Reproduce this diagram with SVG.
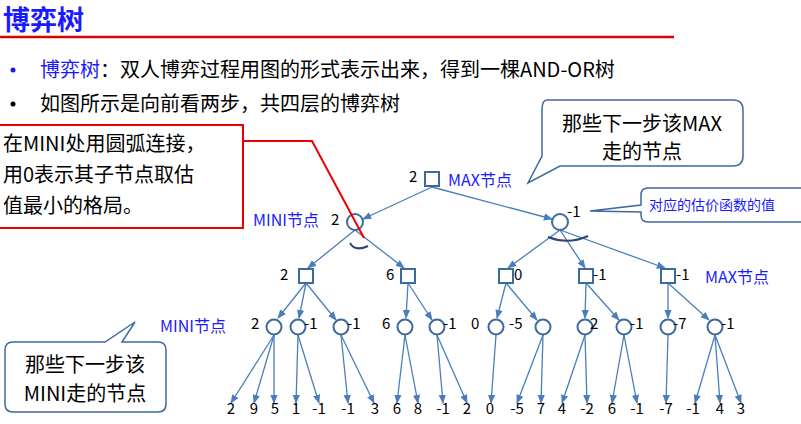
<svg xmlns="http://www.w3.org/2000/svg" width="801" height="424" viewBox="0 0 801 424">
<defs><marker id="a" viewBox="0 0 10 10" refX="9" refY="5" markerWidth="7" markerHeight="7" orient="auto"><path d="M0,1 L10,5 L0,9 z" fill="#4a7ebb"/></marker></defs>
<style>
text{font-family:"Noto Sans CJK SC","Liberation Sans",sans-serif}
.e{stroke:#4a7ebb;stroke-width:1.3;fill:none;marker-end:url(#a)}
.n{fill:#fff;stroke:#3d6a9c;stroke-width:2}
.v{font-size:15px;fill:#000}
.b{font-size:16px;fill:#1a1aff}
.c{fill:#fff;stroke:#3d6a9c;stroke-width:1.5}
.t{font-size:20px;fill:#000}
</style>
<rect width="801" height="424" fill="#fff"/>
<text x="3" y="30" font-size="27" font-weight="bold" fill="#1a1aff">博弈树</text>
<line x1="0" y1="37" x2="674" y2="37" stroke="#d00" stroke-width="2.5"/>
<circle cx="13" cy="70" r="2.5" fill="#1a1aff"/>
<text x="40" y="77" class="t"><tspan fill="#1a1aff">博弈树</tspan>：双人博弈过程用图的形式表示出来，得到一棵AND-OR树</text>
<circle cx="13" cy="104" r="2.5" fill="#000"/>
<text x="40" y="111" class="t">如图所示是向前看两步，共四层的博弈树</text>
<g id="connectors">
<path class="e" d="M432,187 L363,219"/><path class="e" d="M432,187 L552,219"/>
<path class="e" d="M355,230 L308,268"/><path class="e" d="M355,230 L404,268"/>
<path class="e" d="M560,230 L508,268"/><path class="e" d="M560,230 L585,268"/><path class="e" d="M560,230 L665,268"/>
<path class="e" d="M306,283 L278,318"/><path class="e" d="M306,283 L299,318"/><path class="e" d="M306,283 L336,320"/>
<path class="e" d="M408,283 L406,318"/><path class="e" d="M408,283 L432,320"/>
<path class="e" d="M506,283 L497,318"/><path class="e" d="M506,283 L537,320"/>
<path class="e" d="M586,283 L585,318"/><path class="e" d="M586,283 L619,320"/>
<path class="e" d="M668,283 L668,318"/><path class="e" d="M668,283 L709,320"/>
<path class="e" d="M274,335 L231,403"/><path class="e" d="M274,335 L254,403"/><path class="e" d="M274,335 L274,403"/>
<path class="e" d="M298,335 L296,403"/><path class="e" d="M298,335 L319,403"/>
<path class="e" d="M341,335 L348,403"/><path class="e" d="M341,335 L374,403"/>
<path class="e" d="M405,335 L397,403"/><path class="e" d="M405,335 L418,403"/>
<path class="e" d="M437,335 L443,403"/><path class="e" d="M437,335 L467,403"/>
<path class="e" d="M496,335 L491,403"/>
<path class="e" d="M543,335 L517,403"/><path class="e" d="M543,335 L541,403"/>
<path class="e" d="M585,335 L562,403"/><path class="e" d="M585,335 L587,403"/>
<path class="e" d="M624,335 L612,403"/><path class="e" d="M624,335 L637,403"/>
<path class="e" d="M668,335 L666,403"/>
<path class="e" d="M715,335 L695,403"/><path class="e" d="M715,335 L720,403"/><path class="e" d="M715,335 L741,403"/>
<path d="M350,243 Q355,252 368,246" stroke="#2b4a70" stroke-width="2" fill="none"/>
<path d="M548,237 Q568,245 588,236" stroke="#2b4a70" stroke-width="2" fill="none"/>
</g>
<g id="root"><rect class="n" x="425" y="172" width="14" height="14"/><text class="v" x="409" y="182">2</text><text class="b" x="448" y="186">MAX节点</text></g>
<g id="l1"><circle class="n" cx="355" cy="222" r="8"/><text class="v" x="331" y="225">2</text><text class="b" x="253" y="226">MINI节点</text>
<circle class="n" cx="560" cy="222" r="8"/><text class="v" x="567" y="217">-1</text></g>
<g id="l2">
<rect class="n" x="299" y="269" width="14" height="14"/><text class="v" x="280" y="280">2</text>
<rect class="n" x="401" y="269" width="14" height="14"/><text class="v" x="386" y="280">6</text>
<rect class="n" x="499" y="269" width="14" height="14"/><text class="v" x="514" y="280">0</text>
<rect class="n" x="579" y="269" width="14" height="14"/><text class="v" x="593" y="280">-1</text>
<rect class="n" x="661" y="269" width="14" height="14"/><text class="v" x="676" y="280">-1</text>
<text class="b" x="705" y="283">MAX节点</text></g>
<g id="l3">
<text class="b" x="160" y="332">MINI节点</text>
<circle class="n" cx="274" cy="327" r="7.5"/><text class="v" x="251" y="329">2</text>
<circle class="n" cx="298" cy="327" r="7.5"/><text class="v" x="304" y="329">-1</text>
<circle class="n" cx="341" cy="327" r="7.5"/><text class="v" x="347" y="329">-1</text>
<circle class="n" cx="405" cy="327" r="7.5"/><text class="v" x="382" y="329">6</text>
<circle class="n" cx="437" cy="327" r="7.5"/><text class="v" x="443" y="329">-1</text>
<circle class="n" cx="496" cy="327" r="7.5"/><text class="v" x="471" y="329">0</text>
<circle class="n" cx="543" cy="327" r="7.5"/><text class="v" x="509" y="329">-5</text>
<circle class="n" cx="585" cy="327" r="7.5"/><text class="v" x="590" y="329">2</text>
<circle class="n" cx="624" cy="327" r="7.5"/><text class="v" x="630" y="329">-1</text>
<circle class="n" cx="668" cy="327" r="7.5"/><text class="v" x="673" y="329">-7</text>
<circle class="n" cx="715" cy="327" r="7.5"/><text class="v" x="721" y="329">-1</text>
</g>
<g id="leaves" class="v" text-anchor="middle" font-size="15">
<text x="231" y="414">2</text><text x="254" y="414">9</text><text x="275" y="414">5</text><text x="296" y="414">1</text><text x="319" y="414">-1</text><text x="348" y="414">-1</text><text x="375" y="414">3</text><text x="397" y="414">6</text><text x="418" y="414">8</text><text x="443" y="414">-1</text><text x="467" y="414">2</text><text x="490" y="414">0</text><text x="517" y="414">-5</text><text x="541" y="414">7</text><text x="562" y="414">4</text><text x="587" y="414">-2</text><text x="612" y="414">6</text><text x="637" y="414">-1</text><text x="666" y="414">-7</text><text x="693" y="414">-1</text><text x="720" y="414">4</text><text x="741" y="414">3</text>
</g>
<g id="callout-max"><path class="c" d="M547,100 H733 Q743,100 743,110 V156 Q743,166 733,166 H560 L528,183 L542,156 V110 Q542,100 547,100 Z"/>
<text class="t" x="642" y="131" text-anchor="middle">那些下一步该MAX</text><text class="t" x="642" y="159" text-anchor="middle">走的节点</text></g>
<g id="callout-val"><path class="c" d="M648,188 H805 V222 H648 Q641,222 641,215 V212 L590,211 L641,205 V195 Q641,188 648,188 Z"/>
<text x="649" y="210" font-size="14" fill="#1a1aff">对应的估价函数的值</text></g>
<g id="callout-mini"><path class="c" d="M13,342 H105 L135,322 L122,342 H158 Q166,342 166,350 V404 Q166,412 158,412 H13 Q5,412 5,404 V350 Q5,342 13,342 Z"/>
<text class="t" x="85" y="372" text-anchor="middle">那些下一步该</text><text class="t" x="85" y="401" text-anchor="middle">MINI走的节点</text></g>
<g id="note"><rect x="-2" y="125" width="245" height="103" fill="#fff" stroke="#e00" stroke-width="2"/>
<polyline points="243,141 312,141 364,238" fill="none" stroke="#e00" stroke-width="2"/>
<text class="t" x="3" y="151">在MINI处用圆弧连接，</text><text class="t" x="3" y="182">用0表示其子节点取估</text><text class="t" x="3" y="213">值最小的格局。</text></g>
</svg>
